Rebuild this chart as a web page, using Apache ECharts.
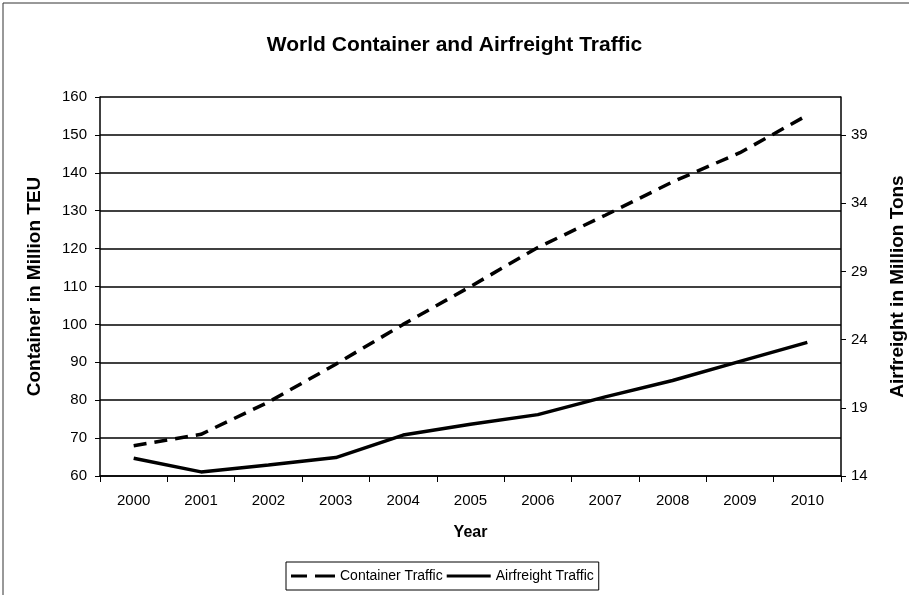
<!DOCTYPE html>
<html>
<head>
<meta charset="utf-8">
<title>World Container and Airfreight Traffic</title>
<script src="https://cdn.jsdelivr.net/npm/echarts@6/dist/echarts.min.js"></script>
<style>
  html, body { margin: 0; padding: 0; background: #fff; }
  #chart { width: 909px; height: 595px; }
</style>
</head>
<body>
<div id="chart"></div>
<script>
const years = ['2000', '2001', '2002', '2003', '2004', '2005', '2006', '2007', '2008', '2009', '2010'];
// million TEU (left axis)
const containerTraffic = [68, 71, 79.5, 89.5, 100, 110, 120.3, 128.8, 137.6, 145.3, 155.2];
// million tons (right axis)
const airfreightTraffic = [15.3, 14.3, 14.8, 15.35, 17.0, 17.8, 18.5, 19.8, 21.0, 22.4, 23.8];

const font = 'Liberation Sans, Arial, sans-serif';

// legend icons: two dashes / one solid bar
const dashIcon = 'path://M0,0H16V3H0Z M24,0H44V3H24Z';
const solidIcon = 'path://M0,0H44V3H0Z';

const chart = echarts.init(document.getElementById('chart'));

chart.setOption({
  backgroundColor: '#fff',
  animation: false,
  title: {
    text: 'World Container and Airfreight Traffic',
    left: 'center',
    top: 30,
    textStyle: { fontFamily: font, fontSize: 21, fontWeight: 'bold', color: '#000' }
  },
  legend: {
    left: 286,
    top: 562,
    padding: [7, 5, 7, 5],
    borderColor: '#000',
    borderWidth: 1,
    itemWidth: 44,
    itemHeight: 3,
    itemGap: 4,
    textStyle: { fontFamily: font, fontSize: 14, color: '#000' },
    data: [
      { name: 'Container Traffic', icon: dashIcon },
      { name: 'Airfreight Traffic', icon: solidIcon }
    ]
  },
  grid: { left: 100, right: 68, top: 97, bottom: 119, containLabel: false, outerBoundsMode: 'none' },
  xAxis: {
    type: 'category',
    data: years,
    boundaryGap: true,
    name: 'Year',
    nameLocation: 'middle',
    nameGap: 49,
    nameTextStyle: { fontFamily: font, fontSize: 16, fontWeight: 'bold', color: '#000' },
    axisLine: { lineStyle: { color: '#000', width: 1.5 } },
    axisTick: { show: true, alignWithLabel: false, length: 6, lineStyle: { color: '#000' } },
    axisLabel: { fontFamily: font, fontSize: 15, color: '#000', margin: 17 }
  },
  yAxis: [{
    type: 'value',
    min: 60,
    max: 160,
    interval: 10,
    name: 'Container in Million TEU',
    nameLocation: 'middle',
    nameRotate: 90,
    nameGap: 56,
    nameTextStyle: { fontFamily: font, fontSize: 19, fontWeight: 'bold', color: '#000' },
    axisLine: { show: true, lineStyle: { color: '#000', width: 1.5 } },
    axisTick: { show: true, length: 5, lineStyle: { color: '#000' } },
    axisLabel: { fontFamily: font, fontSize: 15, color: '#000', margin: 13 },
    splitLine: { show: true, lineStyle: { color: '#000', width: 1.5 } }
  }, {
    type: 'value',
    min: 14,
    max: 41.79,
    interval: 5,
    position: 'right',
    name: 'Airfreight in Million Tons',
    nameLocation: 'middle',
    nameRotate: 90,
    nameGap: 47,
    nameTextStyle: { fontFamily: font, fontSize: 19, fontWeight: 'bold', color: '#000' },
    axisLine: { show: true, lineStyle: { color: '#000', width: 1.5 } },
    axisTick: { show: true, length: 5, lineStyle: { color: '#000' } },
    axisLabel: { fontFamily: font, fontSize: 15, color: '#000', margin: 10, showMaxLabel: false },
    splitLine: { show: false }
  }],
  series: [{
    name: 'Container Traffic',
    type: 'line',
    yAxisIndex: 0,
    data: containerTraffic,
    symbol: 'none',
    lineStyle: { color: '#000', width: 3.5, type: [13, 8] },
    itemStyle: { color: '#000' }
  }, {
    name: 'Airfreight Traffic',
    type: 'line',
    yAxisIndex: 1,
    data: airfreightTraffic,
    symbol: 'none',
    lineStyle: { color: '#000', width: 3.5 },
    itemStyle: { color: '#000' }
  }],
  graphic: [
    { type: 'line', shape: { x1: 3, y1: 3, x2: 909, y2: 3 }, style: { stroke: '#333', lineWidth: 1 } },
    { type: 'line', shape: { x1: 3, y1: 3, x2: 3, y2: 595 }, style: { stroke: '#333', lineWidth: 1 } }
  ]
});
</script>
</body>
</html>
